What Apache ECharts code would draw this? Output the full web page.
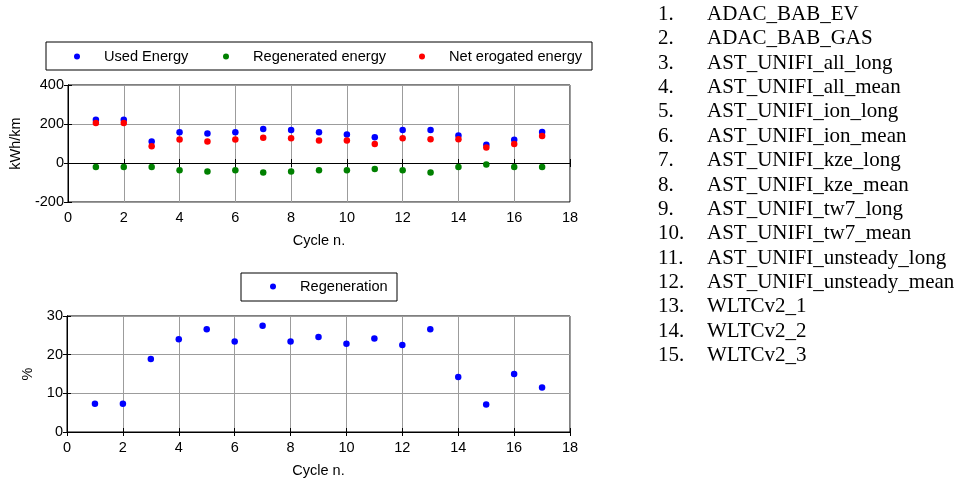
<!DOCTYPE html>
<html>
<head>
<meta charset="utf-8">
<script src="https://cdn.jsdelivr.net/npm/echarts@6/dist/echarts.min.js"></script>
<style>
  html, body { margin: 0; padding: 0; background: #fff; }
  #chart { width: 964px; height: 479px; }
</style>
</head>
<body>
<div id="chart"></div>
<script>
// Cycle index 1..17
const cycles = [1, 2, 3, 4, 5, 6, 7, 8, 9, 10, 11, 12, 13, 14, 15, 16, 17];

// Energy per km for each driving cycle (kWh/km)
const usedEnergy = [222, 222, 110, 158, 151, 158, 175, 169, 158, 146, 132, 169, 169, 141, 93, 119, 159];
const regeneratedEnergy = [-20, -20, -20, -37, -44, -37, -49, -44, -37, -37, -31, -37, -49, -20, -8, -20, -20];
const netErogatedEnergy = [205, 205, 86, 120, 110, 120, 129, 127, 115, 115, 98, 127, 122, 122, 80, 98, 139];

// Share of regenerated energy (%)
const regeneration = [7.3, 7.3, 18.9, 24.0, 26.6, 23.4, 27.5, 23.4, 24.6, 22.8, 24.2, 22.5, 26.6, 14.2, 7.1, 15.0, 11.5];

// Names of the cycles, numbered in the side list
const cycleNames = [
  'ADAC_BAB_EV', 'ADAC_BAB_GAS', 'AST_UNIFI_all_long', 'AST_UNIFI_all_mean',
  'AST_UNIFI_ion_long', 'AST_UNIFI_ion_mean', 'AST_UNIFI_kze_long', 'AST_UNIFI_kze_mean',
  'AST_UNIFI_tw7_long', 'AST_UNIFI_tw7_mean', 'AST_UNIFI_unsteady_long', 'AST_UNIFI_unsteady_mean',
  'WLTCv2_1', 'WLTCv2_2', 'WLTCv2_3'
];

// Axis ranges and tick steps
const xRange = [0, 18, 2];
const energyRange = [-200, 400, 200];
const percentRange = [0, 30, 10];

const FONT = '"Liberation Sans", Arial, sans-serif';
const SERIF = '"Liberation Serif", "Times New Roman", serif';
const gridColor = '#9c9c9c';

function pairs(ys) { return cycles.map((c, i) => [c, ys[i]]); }

function xAxisFor(gridIndex, name) {
  return [{
    type: 'value', gridIndex, min: xRange[0], max: xRange[1], interval: xRange[2],
    name, nameLocation: 'middle', nameGap: 31,
    nameTextStyle: { fontFamily: FONT, fontSize: 14.5, color: '#000' },
    axisLine: { show: true, lineStyle: { color: '#000', width: 1 } },
    axisTick: { show: true, inside: true, length: 4, lineStyle: { color: '#000' } },
    axisLabel: { fontFamily: FONT, fontSize: 14.5, color: '#000', margin: 8 },
    splitLine: { show: true, lineStyle: { color: gridColor, width: 1 } }
  }, {
    type: 'value', gridIndex, position: 'top', min: xRange[0], max: xRange[1], interval: xRange[2],
    axisLine: { show: true, lineStyle: { color: '#000', width: 1 } },
    axisTick: { show: true, inside: true, length: 4, lineStyle: { color: '#000' } },
    axisLabel: { show: false }, splitLine: { show: false }
  }];
}

function yAxisFor(gridIndex, range, name, nameGap) {
  return [{
    type: 'value', gridIndex, min: range[0], max: range[1], interval: range[2],
    name, nameLocation: 'middle', nameGap,
    nameTextStyle: { fontFamily: FONT, fontSize: 14.5, color: '#000' },
    axisLine: { show: true, lineStyle: { color: '#000', width: 1 } },
    axisTick: { show: true, inside: true, length: 4, lineStyle: { color: '#000' } },
    axisLabel: { fontFamily: FONT, fontSize: 14.5, color: '#000', margin: 4 },
    splitLine: { show: true, lineStyle: { color: gridColor, width: 1 } }
  }, {
    type: 'value', gridIndex, position: 'right', min: range[0], max: range[1], interval: range[2],
    axisLine: { show: true, lineStyle: { color: '#000', width: 1 } },
    axisTick: { show: true, inside: true, length: 4, lineStyle: { color: '#000' } },
    axisLabel: { show: false }, splitLine: { show: false }
  }];
}

function legendAt(name, left, top) {
  return {
    data: [{ name, icon: 'circle' }],
    left, top, itemWidth: 6, itemHeight: 6, padding: 0,
    selectedMode: false,
    textStyle: { fontFamily: FONT, fontSize: 14.6, color: '#000', padding: [0, 0, 0, 19] }
  };
}

function dots(name, data, color, xi, yi) {
  return {
    name, type: 'scatter', xAxisIndex: xi, yAxisIndex: yi,
    data: pairs(data), symbol: 'circle', symbolSize: 6.5,
    itemStyle: { color, opacity: 1 }, emphasis: { disabled: true }, z: 5
  };
}

// Numbered list of cycle names on the right
const listGraphics = [];
cycleNames.forEach((n, i) => {
  const y = 15 + i * 24.36;
  listGraphics.push({
    type: 'text', left: 658, top: y - 11,
    style: { text: (i + 1) + '.', font: '21px ' + SERIF, fill: '#000' }
  });
  listGraphics.push({
    type: 'text', left: 707, top: y - 11,
    style: { text: n, font: '21px ' + SERIF, fill: '#000' }
  });
});

const chart = echarts.init(document.getElementById('chart'), null, { renderer: 'canvas' });
chart.setOption({
  animation: false,
  backgroundColor: '#fff',
  grid: [
    { left: 67, top: 85, width: 503, height: 117, show: true, borderColor: '#000', borderWidth: 1, backgroundColor: '#fff' },
    { left: 67, top: 316, width: 503, height: 117, show: true, borderColor: '#000', borderWidth: 1, backgroundColor: '#fff' }
  ],
  xAxis: [...xAxisFor(0, 'Cycle n.'), ...xAxisFor(1, 'Cycle n.')],
  yAxis: [...yAxisFor(0, energyRange, 'kWh/km', 45), ...yAxisFor(1, percentRange, '%', 32)],
  legend: [
    legendAt('Used Energy', 74, 49),
    legendAt('Regenerated energy', 223, 49),
    legendAt('Net erogated energy', 419, 49),
    legendAt('Regeneration', 270, 279)
  ],
  graphic: [
    { type: 'rect', shape: { x: 46, y: 42, width: 546, height: 28 }, style: { fill: '#fff', stroke: '#000', lineWidth: 1 }, z: 0 },
    { type: 'rect', shape: { x: 241, y: 273, width: 156, height: 28 }, style: { fill: '#fff', stroke: '#000', lineWidth: 1 }, z: 0 },
    ...listGraphics
  ],
  series: [
    dots('Used Energy', usedEnergy, '#0000ff', 0, 0),
    dots('Regenerated energy', regeneratedEnergy, '#008000', 0, 0),
    dots('Net erogated energy', netErogatedEnergy, '#ff0000', 0, 0),
    dots('Regeneration', regeneration, '#0000ff', 2, 2)
  ]
});
</script>
</body>
</html>
